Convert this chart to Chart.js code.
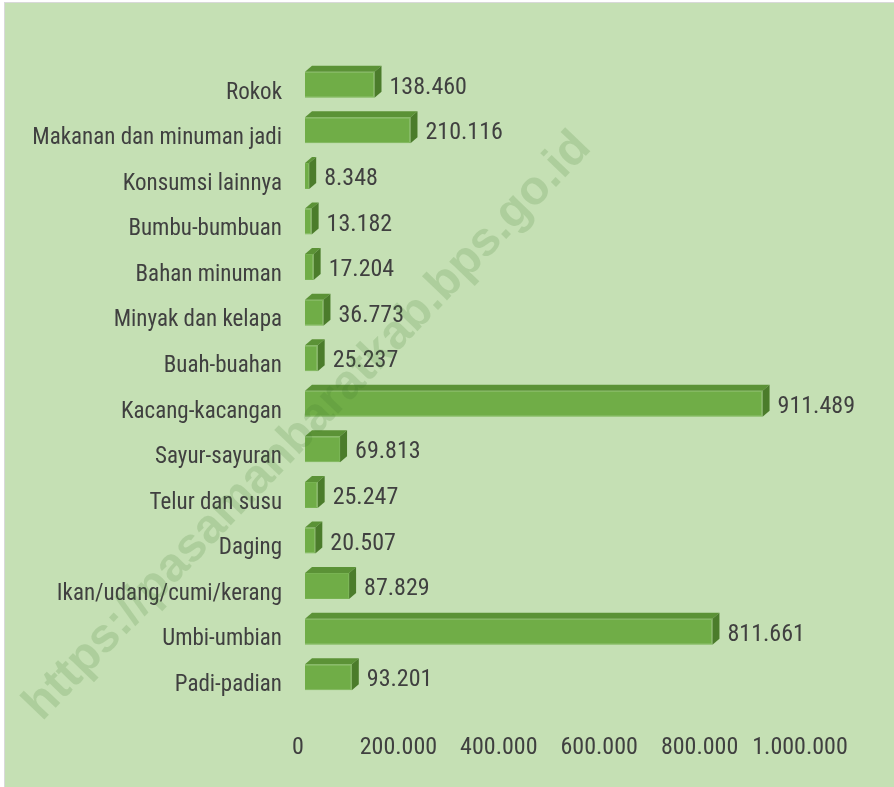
<!DOCTYPE html>
<html lang="id">
<head>
    <meta charset="UTF-8">
    <title>Konsumsi</title>
    <script src="https://cdn.jsdelivr.net/npm/chart.js"></script>
    <style>
        body {
            margin: 0;
            background: #fff;
            overflow: hidden;
        }
        .chart-container {
            position: relative;
            width: 894px;
            height: 787px;
        }
    </style>
</head>
<body>
    <div class="chart-container">
        <canvas id="konsumsiChart"></canvas>
    </div>

    <script>
        // data, top to bottom as in the picture
        const categories = [
            'Rokok', 'Makanan dan minuman jadi', 'Konsumsi lainnya', 'Bumbu-bumbuan',
            'Bahan minuman', 'Minyak dan kelapa', 'Buah-buahan', 'Kacang-kacangan',
            'Sayur-sayuran', 'Telur dan susu', 'Daging', 'Ikan/udang/cumi/kerang',
            'Umbi-umbian', 'Padi-padian'
        ];
        const values = [
            138460, 210116, 8348, 13182, 17204, 36773, 25237, 911489,
            69813, 25247, 20507, 87829, 811661, 93201
        ];
        const tickLabels = ['0', '200.000', '400.000', '600.000', '800.000', '1.000.000'];

        const FONT = "'Liberation Sans Narrow', 'Roboto Condensed', 'DejaVu Sans Condensed', sans-serif";
        const TEXT = '#404040';
        const DX = 7, DY = 6; // 3d depth

        function fmt(v) {
            return String(v).replace(/\B(?=(\d{3})+(?!\d))/g, '.');
        }

        // background panel
        const panelBg = {
            id: 'panelBg',
            beforeDraw(chart) {
                const c = chart.ctx;
                c.save();
                c.fillStyle = '#ffffff';
                c.fillRect(0, 0, chart.width, chart.height);
                c.fillStyle = '#d9d9d9';
                c.fillRect(4, 2, chart.width - 4, chart.height - 2);
                c.fillStyle = '#c5e0b4';
                c.fillRect(5, 3, chart.width - 5, chart.height - 3);
                c.restore();
            }
        };

        // top + side faces and value labels
        const bars3d = {
            id: 'bars3d',
            afterDatasetsDraw(chart) {
                const c = chart.ctx;
                const meta = chart.getDatasetMeta(0);
                c.save();
                meta.data.forEach((bar, i) => {
                    const x0 = bar.base, x1 = bar.x;
                    const top = bar.y - bar.height / 2, bottom = bar.y + bar.height / 2;
                    // top face
                    c.fillStyle = '#5b9236';
                    c.beginPath();
                    c.moveTo(x0, top);
                    c.lineTo(x0 + DX, top - DY);
                    c.lineTo(x1 + DX, top - DY);
                    c.lineTo(x1, top);
                    c.closePath();
                    c.fill();
                    // side face
                    c.fillStyle = '#4b7c2b';
                    c.beginPath();
                    c.moveTo(x1, top);
                    c.lineTo(x1 + DX, top - DY);
                    c.lineTo(x1 + DX, bottom - DY);
                    c.lineTo(x1, bottom);
                    c.closePath();
                    c.fill();
                    // value
                    c.fillStyle = TEXT;
                    c.font = '24px ' + FONT;
                    c.textAlign = 'left';
                    c.textBaseline = 'middle';
                    c.fillText(fmt(values[i]), x1 + DX + 8, bar.y + 3);
                });
                c.restore();
            }
        };

        const watermark = {
            id: 'watermark',
            afterDraw(chart) {
                const c = chart.ctx;
                c.save();
                c.translate(42, 722);
                c.rotate(-Math.PI / 4 - 0.02);
                c.font = "bold 48px 'Liberation Sans', Arial, sans-serif";
                c.fillStyle = 'rgba(60, 120, 40, 0.17)';
                c.textAlign = 'left';
                c.textBaseline = 'alphabetic';
                c.fillText('https://pasamanbaratkab.bps.go.id', 0, 0);
                c.restore();
            }
        };

        const ctx = document.getElementById('konsumsiChart').getContext('2d');
        const konsumsiChart = new Chart(ctx, {
            type: 'bar',
            data: {
                labels: categories,
                datasets: [{
                    data: values,
                    backgroundColor: '#70ad47',
                    borderColor: '#78b352',
                    borderWidth: 1,
                    categoryPercentage: 1,
                    barPercentage: 0.57
                }]
            },
            options: {
                indexAxis: 'y',
                responsive: true,
                maintainAspectRatio: false,
                animation: false,
                layout: {
                    padding: { top: 62, right: 87, left: 0, bottom: 0 }
                },
                plugins: {
                    legend: { display: false },
                    title: { display: false },
                    tooltip: { enabled: false }
                },
                scales: {
                    x: {
                        min: 0,
                        max: 1000000,
                        grid: { display: false, drawTicks: false },
                        border: { display: false },
                        ticks: {
                            stepSize: 200000,
                            autoSkip: false,
                            maxRotation: 0,
                            padding: 34,
                            labelOffset: -7,
                            color: TEXT,
                            font: { family: FONT, size: 24 },
                            callback: (v, i) => tickLabels[i]
                        },
                        afterFit: (s) => { s.height = 87; }
                    },
                    y: {
                        grid: { display: false, drawTicks: false },
                        border: { display: false },
                        ticks: {
                            autoSkip: false,
                            padding: 23,
                            labelOffset: 8,
                            color: TEXT,
                            font: { family: FONT, size: 23 }
                        },
                        afterFit: (s) => { s.width = 305; }
                    }
                }
            },
            plugins: [panelBg, bars3d, watermark]
        });
    </script>
</body>
</html>
